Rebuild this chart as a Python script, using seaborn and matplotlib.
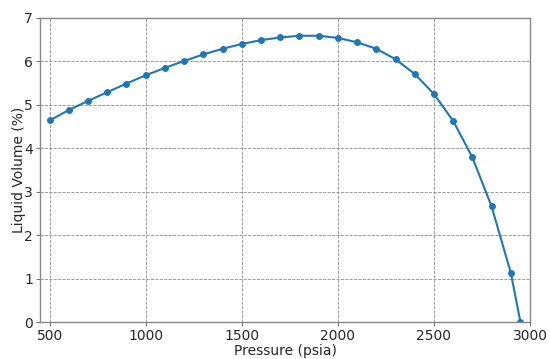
import matplotlib
matplotlib.use("Agg")
import matplotlib.pyplot as plt
import seaborn as sns
import pandas as pd

pressure = [500, 600, 700, 800, 900, 1000, 1100, 1200, 1300, 1400, 1500, 1600, 1700,
            1800, 1900, 2000, 2100, 2200, 2300, 2400, 2500, 2600, 2700, 2800, 2900, 2950]
liquid_volume = [4.64, 4.88, 5.09, 5.29, 5.49, 5.68, 5.85, 6.01, 6.16, 6.29, 6.40, 6.49, 6.55,
                 6.59, 6.59, 6.54, 6.44, 6.29, 6.05, 5.71, 5.25, 4.63, 3.79, 2.66, 1.13, 0.0]

df = pd.DataFrame({'Pressure': pressure, 'Liquid': liquid_volume})

sns.set_style("white")
plt.rcParams['font.family'] = ['DejaVu Sans']

fig = plt.figure(figsize=(5.5, 3.59), dpi=100)
ax = fig.add_axes([0.0727, 0.103, 0.891, 0.847])

sns.lineplot(data=df, x='Pressure', y='Liquid', ax=ax, marker='o', color='#1f77b4',
             markersize=5, markeredgewidth=0, linewidth=1.5)

ax.set_xlim(450, 3000)
ax.set_ylim(0, 7)
ax.set_xticks([500, 1000, 1500, 2000, 2500, 3000])
ax.set_yticks(range(0, 8))
ax.grid(True, linestyle='--', color='grey', linewidth=0.6, alpha=0.9)
ax.tick_params(labelsize=10, length=3, pad=2, color='#777777', left=True, bottom=True)
for s in ax.spines.values():
    s.set_color('#888888')
    s.set_linewidth(1.0)

ax.set_xlabel('Pressure (psia)', fontsize=10, labelpad=1)
ax.set_ylabel('Liquid Volume (%)', fontsize=10, labelpad=-1)

fig.savefig('out.png', dpi=100)
